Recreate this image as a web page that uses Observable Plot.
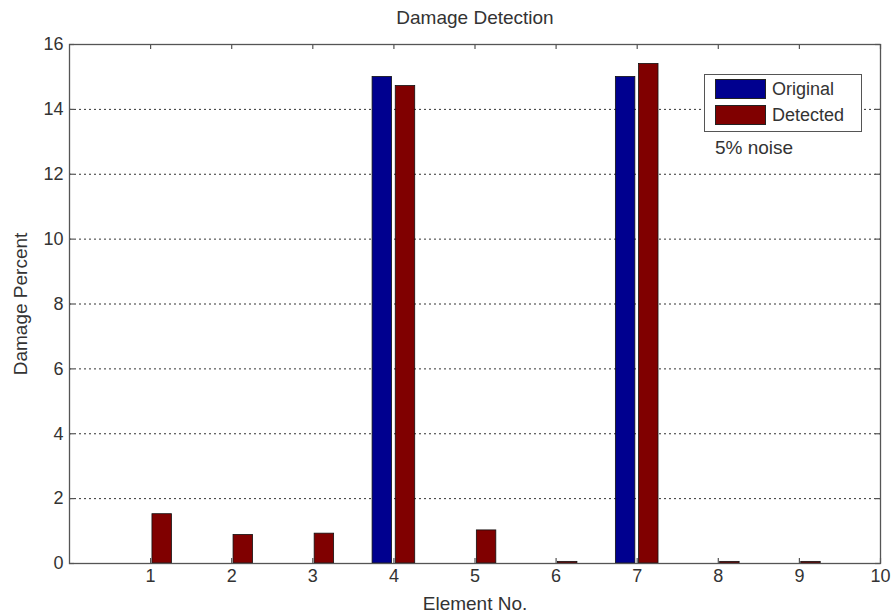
<!DOCTYPE html>
<html>
<head>
<meta charset="utf-8">
<script src="https://cdn.jsdelivr.net/npm/d3@7"></script>
<script src="https://cdn.jsdelivr.net/npm/@observablehq/plot@0.6"></script>
<style>
  html, body { margin: 0; padding: 0; background: #fff; }
  #wrap { position: relative; width: 895px; height: 614px; font-family: "Liberation Sans", Arial, sans-serif; }
  #legend { position: absolute; left: 704px; top: 74px; width: 158px; height: 58px; border: 1px solid #555; background: #fff; box-sizing: border-box; }
  .row { position: absolute; left: 10px; height: 20px; display: flex; align-items: center; font-size: 18px; color: #333; }
  .sw { width: 51px; height: 20px; border: 1px solid #222; box-sizing: border-box; margin-right: 6px; }
  #note { position: absolute; left: 715px; top: 137px; font-size: 19px; line-height: 22px; color: #333; }
</style>
</head>
<body>
<div id="wrap">
  <div id="chart"></div>
  <div id="legend">
    <div class="row" style="top:4px"><div class="sw" id="sw0"></div><span id="lab0"></span></div>
    <div class="row" style="top:30px"><div class="sw" id="sw1"></div><span id="lab1"></span></div>
  </div>
  <div id="note"></div>
</div>
<script>
const elements = [1, 2, 3, 4, 5, 6, 7, 8, 9];
const original = [0, 0, 0, 15, 0, 0, 15, 0, 0];
const detected = [1.52, 0.88, 0.92, 14.72, 1.02, 0.05, 15.4, 0.05, 0.05];
const seriesNames = ["Original", "Detected"];
const seriesColors = ["#00008f", "#800000"];
const xTicks = [1, 2, 3, 4, 5, 6, 7, 8, 9, 10];
const yTicks = [0, 2, 4, 6, 8, 10, 12, 14, 16];
const titleText = "Damage Detection";
const xLabel = "Element No.";
const yLabel = "Damage Percent";
const noteText = "5% noise";

const offset = 1 / 7;
const barW = 0.24;
const bars = [];
elements.forEach((e, i) => {
  bars.push({e, s: 0, v: original[i]});
  bars.push({e, s: 1, v: detected[i]});
});
bars.forEach(d => {
  const c = d.e + (d.s === 0 ? -offset : offset);
  d.x1 = c - barW / 2;
  d.x2 = c + barW / 2;
});

const W = 895, H = 614, mL = 69, mR = 15, mT = 44, mB = 51;
const fw = W - mL - mR, fh = H - mT - mB;
const axisColor = "#555";
const textColor = "#333";

const chart = Plot.plot({
  width: W, height: H,
  marginLeft: mL, marginRight: mR, marginTop: mT, marginBottom: mB,
  style: {fontFamily: "'Liberation Sans', Arial, sans-serif", fontSize: "18px", color: textColor, background: "#fff", overflow: "visible"},
  x: {domain: [0, 10], type: "linear"},
  y: {domain: [0, 16], type: "linear"},
  marks: [
    Plot.gridY(yTicks.filter(t => t > 0 && t < 16), {stroke: "#333", strokeOpacity: 1, strokeDasharray: "2,3", strokeWidth: 1}),
    Plot.rectY(bars.filter(d => d.v > 0), {x1: "x1", x2: "x2", y1: 0, y2: "v", fill: d => seriesColors[d.s], stroke: "#111", strokeWidth: 0.8}),
    Plot.frame({stroke: axisColor, strokeWidth: 1.3}),
    Plot.tickX(xTicks, {x: d => d, insetTop: fh - 5, stroke: axisColor, strokeWidth: 1.2}),
    Plot.tickX(xTicks, {x: d => d, insetBottom: fh - 5, stroke: axisColor, strokeWidth: 1.2}),
    Plot.tickY(yTicks, {y: d => d, insetRight: fw - 5, stroke: axisColor, strokeWidth: 1.2}),
    Plot.tickY(yTicks, {y: d => d, insetLeft: fw - 5, stroke: axisColor, strokeWidth: 1.2}),
    Plot.axisX(xTicks, {tickSize: 0, tickPadding: 6, label: null, fill: textColor, fontSize: 18}),
    Plot.axisY(yTicks, {tickSize: 0, tickPadding: 6, label: null, fill: textColor, fontSize: 18}),
    Plot.text([titleText], {frameAnchor: "top", dy: -27, lineAnchor: "middle", textAnchor: "middle", text: d => d, fill: textColor, fontSize: 19}),
    Plot.text([xLabel], {frameAnchor: "bottom", dy: 40, lineAnchor: "middle", textAnchor: "middle", text: d => d, fill: textColor, fontSize: 19}),
    Plot.text([yLabel], {frameAnchor: "left", dx: -49, rotate: -90, lineAnchor: "middle", textAnchor: "middle", text: d => d, fill: textColor, fontSize: 19})
  ]
});
document.getElementById("chart").appendChild(chart);

seriesNames.forEach((n, i) => {
  document.getElementById("sw" + i).style.background = seriesColors[i];
  document.getElementById("lab" + i).textContent = n;
});
document.getElementById("note").textContent = noteText;
</script>
</body>
</html>
